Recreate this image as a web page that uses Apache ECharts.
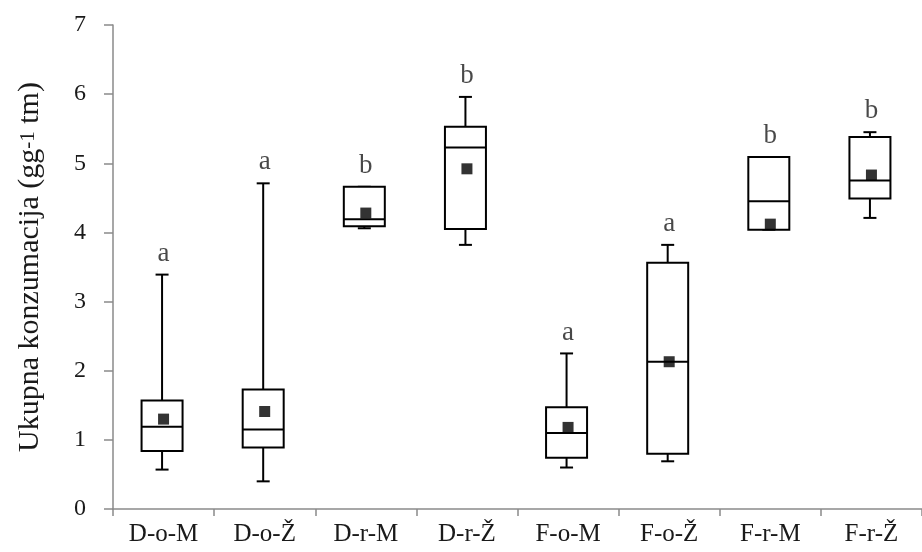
<!DOCTYPE html>
<html>
<head>
<meta charset="utf-8">
<script src="https://cdn.jsdelivr.net/npm/echarts@6/dist/echarts.min.js"></script>
<style>html,body{margin:0;padding:0;background:#fff;}#chart{width:922px;height:552px;}</style>
</head>
<body>
<div id="chart"></div>
<script>
const categories = ['D-o-M','D-o-Ž','D-r-M','D-r-Ž','F-o-M','F-o-Ž','F-r-M','F-r-Ž'];
const mins    = [0.57, 0.40, 4.06, 3.82, 0.60, 0.69, 4.04, 4.21];
const q1s     = [0.84, 0.89, 4.09, 4.05, 0.74, 0.80, 4.04, 4.49];
const medians = [1.19, 1.15, 4.19, 5.23, 1.10, 2.13, 4.45, 4.75];
const q3s     = [1.57, 1.73, 4.66, 5.53, 1.47, 3.56, 5.09, 5.38];
const maxs    = [3.39, 4.71, 4.66, 5.96, 2.25, 3.82, 5.09, 5.45];
const means   = [1.30, 1.41, 4.28, 4.92, 1.18, 2.13, 4.12, 4.83];
const letters = ['a','a','b','b','a','a','b','b'];
const yTicks  = [0, 1, 2, 3, 4, 5, 6, 7];

const FONT = '"Liberation Serif", "Times New Roman", serif';
const AXIS_COLOR = '#8a8a8a';
const TEXT_COLOR = '#1a1a1a';

const boxData = categories.map((c, i) => [i, mins[i], q1s[i], medians[i], q3s[i], maxs[i]]);
const meanData = categories.map((c, i) => [i, means[i]]);
const letterData = categories.map((c, i) => ({ value: [i, maxs[i]], letter: letters[i] }));

const chart = echarts.init(document.getElementById('chart'), null, { renderer: 'canvas' });

function renderBox(params, api) {
  const idx = api.value(0);
  const pMin = api.coord([idx, api.value(1)]);
  const pQ1 = api.coord([idx, api.value(2)]);
  const pMed = api.coord([idx, api.value(3)]);
  const pQ3 = api.coord([idx, api.value(4)]);
  const pMax = api.coord([idx, api.value(5)]);
  const x = pMed[0] - 1.5;
  const bw = 41, cw = 13;
  const ls = { stroke: '#000', lineWidth: 2, fill: null };
  return {
    type: 'group',
    children: [
      { type: 'line', shape: { x1: x, y1: pQ3[1], x2: x, y2: pMax[1] }, style: ls },
      { type: 'line', shape: { x1: x - cw / 2, y1: pMax[1], x2: x + cw / 2, y2: pMax[1] }, style: ls },
      { type: 'line', shape: { x1: x, y1: pQ1[1], x2: x, y2: pMin[1] }, style: ls },
      { type: 'line', shape: { x1: x - cw / 2, y1: pMin[1], x2: x + cw / 2, y2: pMin[1] }, style: ls },
      { type: 'rect', shape: { x: x - bw / 2, y: pQ3[1], width: bw, height: pQ1[1] - pQ3[1] }, style: { stroke: '#000', lineWidth: 2, fill: '#fff' } },
      { type: 'line', shape: { x1: x - bw / 2, y1: pMed[1], x2: x + bw / 2, y2: pMed[1] }, style: ls }
    ]
  };
}

chart.setOption({
  animation: false,
  backgroundColor: '#fff',
  grid: { left: 113, top: 25, bottom: 43, right: -8, containLabel: false },
  xAxis: {
    type: 'category',
    data: categories,
    boundaryGap: true,
    axisLine: { lineStyle: { color: AXIS_COLOR, width: 1.5 } },
    axisTick: { show: true, length: 7, inside: false, lineStyle: { color: AXIS_COLOR, width: 1.5 } },
    axisLabel: { color: TEXT_COLOR, fontFamily: FONT, fontSize: 25, margin: 13 },
    splitLine: { show: false }
  },
  yAxis: {
    type: 'value',
    min: 0, max: 7, interval: 1,
    axisLine: { show: true, lineStyle: { color: AXIS_COLOR, width: 1.5 } },
    axisTick: { show: true, length: 9, lineStyle: { color: AXIS_COLOR, width: 1.5 } },
    axisLabel: { color: TEXT_COLOR, fontFamily: FONT, fontSize: 24, margin: 27,
      formatter: v => yTicks.indexOf(v) >= 0 ? String(v) : '' },
    splitLine: { show: false },
    name: '{n|Ukupna konzumacija (gg}{s|-1}{n| tm)}',
    nameLocation: 'middle',
    nameGap: 68,
    nameRotate: 90,
    nameTextStyle: {
      rich: {
        n: { fontFamily: FONT, fontSize: 30, color: TEXT_COLOR },
        s: { fontFamily: FONT, fontSize: 21, color: TEXT_COLOR, padding: [0, 0, 4, 0] }
      }
    }
  },
  series: [
    {
      type: 'custom',
      renderItem: renderBox,
      data: boxData,
      encode: { x: 0, y: [1, 2, 3, 4, 5] },
      z: 2
    },
    {
      type: 'scatter',
      data: meanData,
      symbol: 'rect',
      symbolSize: 11,
      itemStyle: { color: '#000' },
      z: 3
    },
    {
      type: 'scatter',
      data: letterData,
      symbol: 'circle',
      symbolSize: 1,
      itemStyle: { color: 'rgba(0,0,0,0)' },
      label: {
        show: true, position: 'top', distance: 7,
        formatter: p => p.data.letter,
        fontFamily: FONT, fontSize: 27, color: TEXT_COLOR
      },
      z: 4
    }
  ]
});
</script>
</body>
</html>
